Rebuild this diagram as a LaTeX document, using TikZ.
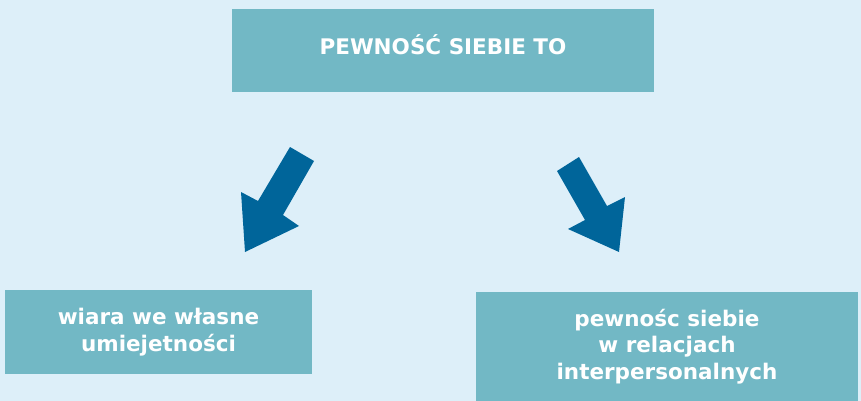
\documentclass[tikz,border=0pt]{standalone}
\usepackage{fontspec}
\setmainfont{DejaVu Sans}
\definecolor{bgblue}{HTML}{DDEFF9}
\definecolor{boxteal}{HTML}{72B8C5}
\definecolor{arrowblue}{HTML}{00659A}

\begin{document}
\begin{tikzpicture}[x=1pt, y=-1pt,
                    box/.style={fill=boxteal, text=white, font=\bfseries\fontsize{21.5}{26.5}\selectfont, align=center, inner sep=0pt},
                    bigarrow/.style={fill=arrowblue}]
                    \fill[bgblue] (0,0) rectangle (861,401);
                    \useasboundingbox (0,0) rectangle (861,401);

                    \node (top) at (443, 50.5) [box, minimum width=422, minimum height=83, text height=15.7pt, text depth=8.5pt] {PEWNOŚĆ SIEBIE TO};
                    \node (wiara) at (158.5, 332) [box, minimum width=307, minimum height=84] {wiara we własne\\umiejetności};
                    \node (relacje) at (667, 346.5) [box, minimum width=382, minimum height=109] {pewnośc siebie\\w relacjach\\interpersonalnych};

                    \fill[bigarrow] (290,147) -- (314,161) -- (283,215) -- (299,226) -- (245,252) -- (241,192) -- (258,201) -- cycle;
                    \fill[bigarrow] (579,157) -- (607,206) -- (625,197) -- (619,252) -- (568,229) -- (585,220) -- (557,171) -- cycle;
                \end{tikzpicture}
\end{document}
